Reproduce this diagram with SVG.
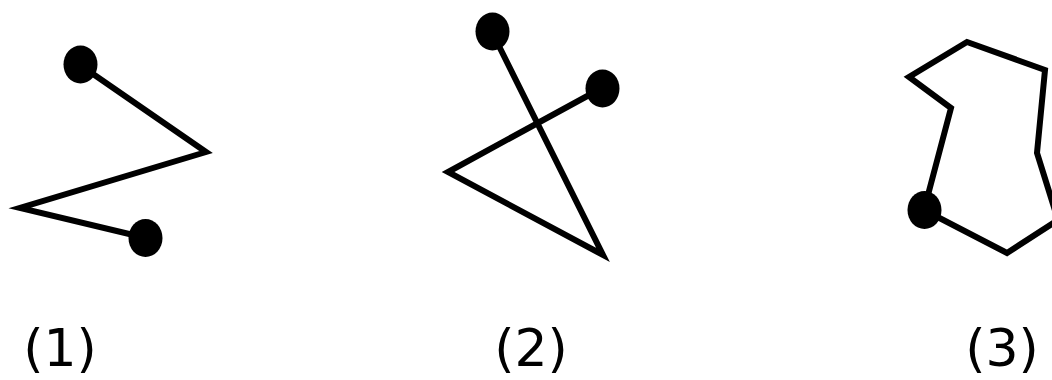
<svg xmlns="http://www.w3.org/2000/svg" width="1052" height="380" viewBox="0 0 1052 380">
<style>
.ln{fill:none;stroke:#000;stroke-width:6;stroke-linejoin:miter;stroke-miterlimit:10}
.dot{fill:#000}
.lbl{font-family:"DejaVu Sans",Verdana,sans-serif;font-size:52px;fill:#000;text-anchor:middle}
</style>
<rect width="1052" height="380" fill="#fff"/>
<g id="connectors">
<polyline class="ln" points="80,65 206,152 20,208 146,238"/>
<polyline class="ln" points="492,32 603,255 448,172 602,88"/>
<polyline class="ln" points="924,210 951,108 909,77 967,42 1045,70 1037,153 1058,220 1007,253 924,210"/>
</g>
<g id="fig1">
<ellipse class="dot" cx="80.5" cy="64.5" rx="17" ry="19"/>
<ellipse class="dot" cx="145.5" cy="238" rx="17" ry="19"/>
<text class="lbl" x="60" y="366">(1)</text>
</g>
<g id="fig2">
<ellipse class="dot" cx="492.5" cy="31.5" rx="17" ry="19"/>
<ellipse class="dot" cx="602.5" cy="88.5" rx="17" ry="19"/>
<text class="lbl" x="531" y="366">(2)</text>
</g>
<g id="fig3">
<ellipse class="dot" cx="924.5" cy="210" rx="17" ry="19"/>
<text class="lbl" x="1002" y="366">(3)</text>
</g>
</svg>
